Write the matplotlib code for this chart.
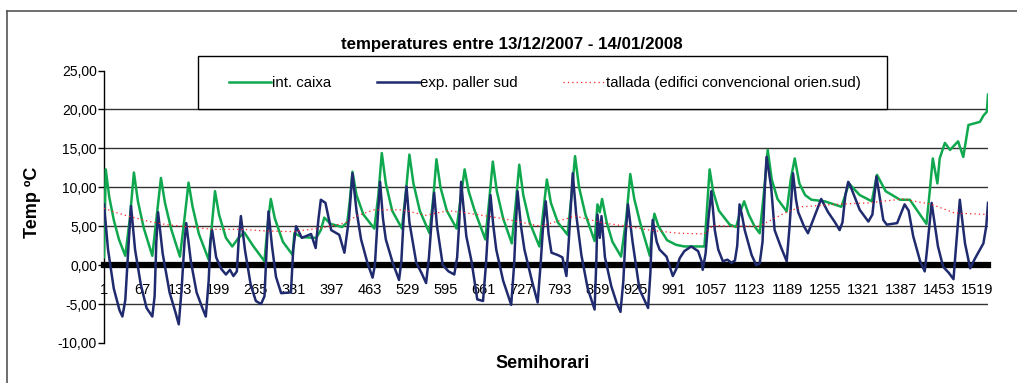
import matplotlib
matplotlib.use('Agg')
import matplotlib.pyplot as plt
from matplotlib.patches import Rectangle
from matplotlib.lines import Line2D
from matplotlib.ticker import FuncFormatter

# Dades llegides del gràfic (índex semihorari, temperatura)
caixa_x = [1, 4, 10, 18, 27, 38, 46, 53, 60, 70, 85, 93, 100, 107, 118, 133,
           141, 148, 155, 166, 183, 189, 194, 201, 213, 224, 235, 245, 260, 280,
           286, 291, 298, 312, 329, 332, 345, 370, 378, 384, 395, 415, 424,
           428, 433, 440, 452, 471, 478, 484, 491, 502, 519, 526, 532, 539, 550, 567,
           574, 579, 586, 597, 614, 621, 628, 635, 645, 664, 671, 677, 684, 695, 710,
           717, 723, 730, 741, 758, 765, 771, 778, 790, 807, 814, 820, 827, 838, 854,
           859, 863, 867, 875, 885, 900, 909, 916, 923, 933, 950, 954, 958, 965, 980,
           996, 1010, 1045, 1050, 1054, 1060, 1070, 1089, 1100, 1108, 1114, 1122, 1132,
           1141, 1148, 1155, 1162, 1172, 1188, 1195, 1202, 1210, 1220, 1231, 1254, 1283,
           1290, 1296, 1315, 1336, 1345, 1360, 1385, 1402, 1431, 1437, 1442, 1450, 1454,
           1463, 1472, 1486, 1495, 1504, 1524, 1530, 1536, 1538]
caixa_y = [1.0, 12.3, 8.8, 5.8, 3.3, 1.2, 6.0, 11.9, 8.2, 4.8, 1.2, 6.5, 11.2, 8.0, 4.6, 1.1,
           6.0, 10.6, 7.5, 4.0, 0.7, 5.5, 9.5, 6.5, 3.5, 2.4, 3.5, 4.2, 2.5, 0.5,
           5.5, 8.5, 6.0, 3.0, 1.3, 4.1, 3.6, 3.5, 4.5, 6.1, 5.3, 4.9, 5.5,
           8.0, 12.0, 9.0, 6.5, 4.7, 9.0, 14.4, 10.5, 7.0, 4.7, 9.5, 14.2, 10.5, 7.0, 4.1,
           9.0, 13.6, 10.0, 7.0, 4.7, 8.5, 12.3, 9.5, 7.1, 3.3, 8.5, 13.3, 9.5, 6.0, 2.8,
           8.0, 12.9, 9.0, 5.5, 2.4, 7.0, 11.0, 8.0, 5.5, 3.9, 9.0, 14.0, 10.0, 6.5, 3.1,
           7.8, 6.8, 8.5, 5.5, 3.0, 1.1, 6.0, 11.7, 8.5, 5.5, 1.2, 4.5, 6.6, 5.0, 3.2,
           2.6, 2.4, 2.4, 8.0, 12.3, 9.5, 7.0, 5.2, 4.9, 7.0, 8.2, 6.5, 5.0,
           4.1, 9.0, 14.8, 11.0, 8.5, 6.9, 11.0, 13.7, 10.5, 9.0, 8.4, 8.2, 7.5,
           9.0, 10.5, 9.0, 8.2, 11.6, 9.5, 8.4, 8.4, 5.3, 9.7, 13.7, 10.5, 13.7,
           15.7, 14.8, 15.9, 13.9, 18.0, 18.4, 19.2, 19.7, 21.9]

paller_x = [1, 8, 18, 28, 33, 38, 44, 48, 55, 65, 75, 85, 89, 92, 95,
            103, 115, 125, 131, 136, 141, 144, 152, 162, 172, 178, 183, 186, 189,
            196, 205, 213, 220, 226, 232, 235, 239, 246, 256, 265, 274, 280, 284, 287,
            293, 300, 309, 326, 330, 335, 345, 361, 369, 374, 378, 386, 396, 410, 419,
            427, 433, 440, 448, 459, 468, 472, 476, 481, 486, 491, 503, 514, 518, 522, 527,
            532, 544, 553, 561, 566, 571, 575, 580, 590, 600, 610, 615, 619, 622,
            626, 631, 640, 650, 660, 665, 669, 673, 678, 683, 695, 709, 714, 717, 720,
            726, 732, 745, 755, 760, 764, 769, 774, 779, 790, 798, 805, 809, 813, 816,
            822, 831, 842, 854, 857, 859, 863, 866, 872, 883, 893, 899, 904, 908, 912,
            920, 932, 947, 951, 953, 955, 962, 967, 979, 990, 996, 1002, 1010, 1022,
            1030, 1034, 1040, 1042, 1047, 1052, 1057, 1063, 1069, 1077, 1085, 1092, 1098,
            1102, 1106, 1110, 1115, 1127, 1135, 1141, 1146, 1150, 1153, 1157, 1161, 1167,
            1177, 1188, 1193, 1199, 1204, 1208, 1218, 1225, 1235, 1248, 1260, 1272, 1280,
            1285, 1290, 1295, 1298, 1315, 1330, 1337, 1344, 1356, 1362, 1380, 1393, 1400,
            1408, 1420, 1428, 1432, 1440, 1451, 1460, 1470, 1478, 1482, 1489, 1498, 1507,
            1515, 1521, 1530, 1535, 1538]
paller_y = [7.8, 2.0, -3.0, -5.8, -6.6, -4.5, 3.0, 7.6, 2.0, -2.5, -5.5, -6.6, -4.0, 3.0, 6.8,
            1.5, -3.5, -6.0, -7.6, -3.0, 3.0, 5.4, 0.5, -3.5, -5.5, -6.6, -2.0, 3.0, 4.5,
            1.0, -0.5, -1.2, -0.6, -1.4, -0.8, 3.0, 6.3, 2.0, -2.5, -4.6, -5.0, -4.0, 2.5, 6.9,
            2.5, -1.5, -3.6, -3.5, 2.0, 5.0, 3.5, 4.0, 2.2, 6.0, 8.4, 8.0, 4.5, 3.9, 1.6,
            6.0, 11.8, 7.0, 3.3, 0.3, -1.6, 0.0, 5.0, 10.7, 6.0, 3.3, 0.3, -1.9, 0.5, 6.0, 10.1,
            5.5, 0.3, -1.0, -2.3, 1.0, 6.0, 9.3, 5.0, 0.0, -0.8, -1.2, 1.0, 6.0, 10.7,
            7.5, 3.7, 0.5, -4.4, -4.6, 0.0, 5.0, 9.0, 5.0, 2.0, -2.0, -5.1, 0.0, 5.0, 9.5,
            5.0, 2.0, -2.0, -4.8, 0.0, 4.5, 8.2, 4.0, 1.6, 1.3, 1.0, -1.4, 3.0, 8.0, 11.8,
            6.5, 1.3, -3.0, -5.7, 0.5, 6.5, 3.5, 6.3, 1.0, -2.7, -5.0, -6.0, -2.0, 4.0, 7.8,
            3.0, -3.1, -5.5, -1.0, 3.0, 5.8, 3.0, 2.0, 1.1, -1.4, -0.5, 0.9, 1.8, 2.4,
            2.0, 1.8, 0.5, -0.6, 1.5, 6.0, 9.5, 4.5, 2.0, 0.5, 0.7, 0.3, 0.6,
            2.5, 7.8, 6.5, 4.5, 1.3, 0.0, 0.2, 3.0, 10.0, 13.9, 12.0, 10.0, 4.5,
            2.5, 0.5, 5.0, 11.8, 8.5, 6.8, 5.0, 4.1, 6.0, 8.5, 6.8, 5.5, 4.5,
            5.5, 9.0, 10.7, 10.3, 7.1, 5.6, 6.5, 11.4, 5.8, 5.2, 5.4, 7.8, 7.0,
            3.7, 0.5, -0.8, 2.0, 8.0, 2.4, -0.2, -1.0, -1.8, 2.0, 8.4, 2.8, -0.4,
            0.8, 1.6, 2.8, 5.0, 8.0]

tallada_x = [1, 20, 48, 80, 110, 150, 190, 240, 280, 330, 380, 420, 440, 470, 520,
             560, 600, 650, 700, 760, 820, 870, 910, 950, 1000, 1045, 1060, 1090, 1140,
             1190, 1215, 1270, 1330, 1390, 1440, 1480, 1538]
tallada_y = [7.3, 6.8, 6.2, 5.6, 5.2, 4.9, 4.6, 4.6, 4.4, 4.3, 4.8, 5.4, 6.3, 7.1, 7.1,
             6.4, 7.0, 6.5, 5.9, 5.0, 6.3, 5.4, 5.0, 4.5, 4.1, 4.0, 5.1, 5.0, 5.0,
             6.9, 7.5, 7.8, 8.0, 8.5, 7.8, 6.7, 6.5]

x_ticks = [1, 67, 133, 199, 265, 331, 397, 463, 529, 595, 661, 727, 793, 859, 925,
           991, 1057, 1123, 1189, 1255, 1321, 1387, 1453, 1519]
y_ticks = [-10, -5, 0, 5, 10, 15, 20, 25]
grid_y = [-5, 5, 10, 15, 20]

series_names = ['int. caixa', 'exp. paller sud', 'tallada (edifici convencional orien.sud)']

plt.rcParams['font.family'] = ['Liberation Sans', 'DejaVu Sans']

W, H = 1017, 383
fig = plt.figure(figsize=(W / 100, H / 100), dpi=100)
ax = fig.add_axes([104 / W, 1 - 343 / H, (988 - 104) / W, (343 - 70.5) / H])

for v in grid_y:
    ax.axhline(v, color='#333333', lw=1.0, zorder=1)

ax.plot(caixa_x, caixa_y, color='#10a84f', lw=1.8, zorder=3)
ax.plot(paller_x, paller_y, color='#1f2b6e', lw=1.8, zorder=3)
ax.plot(tallada_x, tallada_y, color='#ff2020', lw=0.9, ls=(0, (1, 2.5)), zorder=3)

ax.set_xlim(1, 1538)
ax.set_ylim(-10, 25)

ax.spines['top'].set_visible(False)
ax.spines['right'].set_visible(False)
ax.spines['left'].set_linewidth(1.0)
ax.spines['bottom'].set_position(('data', 0))
ax.spines['bottom'].set_linewidth(4.5)
ax.spines['bottom'].set_zorder(2)

ax.set_yticks(y_ticks)
ax.yaxis.set_major_formatter(FuncFormatter(lambda v, p: f'{v:.2f}'.replace('.', ',')))
ax.tick_params(axis='y', length=4, width=1, labelsize=10, pad=1)
ax.set_xticks(x_ticks)
ax.set_xticklabels([str(t) for t in x_ticks])
ax.tick_params(axis='x', length=0, labelsize=10.5, pad=13)

ax.set_ylabel('Temp ºC', fontsize=13, fontweight='bold')
ax.yaxis.set_label_coords((41 - 104) / 884, (343 - 202) / 272.5)

fig.text(543 / W, 1 - 363 / H, 'Semihorari', ha='center', va='center',
         fontsize=13, fontweight='bold')
fig.text(512 / W, 1 - 45 / H, 'temperatures entre 13/12/2007 - 14/01/2008',
         ha='center', va='center', fontsize=12.2, fontweight='bold')

# Marc del gràfic (tallat a la dreta i a baix)
fig.add_artist(Line2D([7 / W, 1.0], [1 - 11 / H, 1 - 11 / H], color='#555555', lw=1.2))
fig.add_artist(Line2D([7 / W, 7 / W], [0.0, 1 - 11 / H], color='#555555', lw=1.2))

# Llegenda
fig.add_artist(Rectangle((198 / W, 1 - 109 / H), 689 / W, 53 / H, transform=fig.transFigure,
                         facecolor='white', edgecolor='black', lw=1.0, zorder=5))
handles = [Line2D([], [], color='#10a84f', lw=1.8),
           Line2D([], [], color='#1f2b6e', lw=1.8),
           Line2D([], [], color='#ff2020', lw=0.9, ls=(0, (1, 2.5)))]
leg = fig.legend(handles, series_names, loc='center', bbox_to_anchor=(545 / W, 1 - 83 / H),
                 ncol=3, frameon=False, fontsize=10.8, handlelength=2.8,
                 handletextpad=0.1, columnspacing=3.0)
leg.set_zorder(6)

fig.savefig('out.png', dpi=100)
